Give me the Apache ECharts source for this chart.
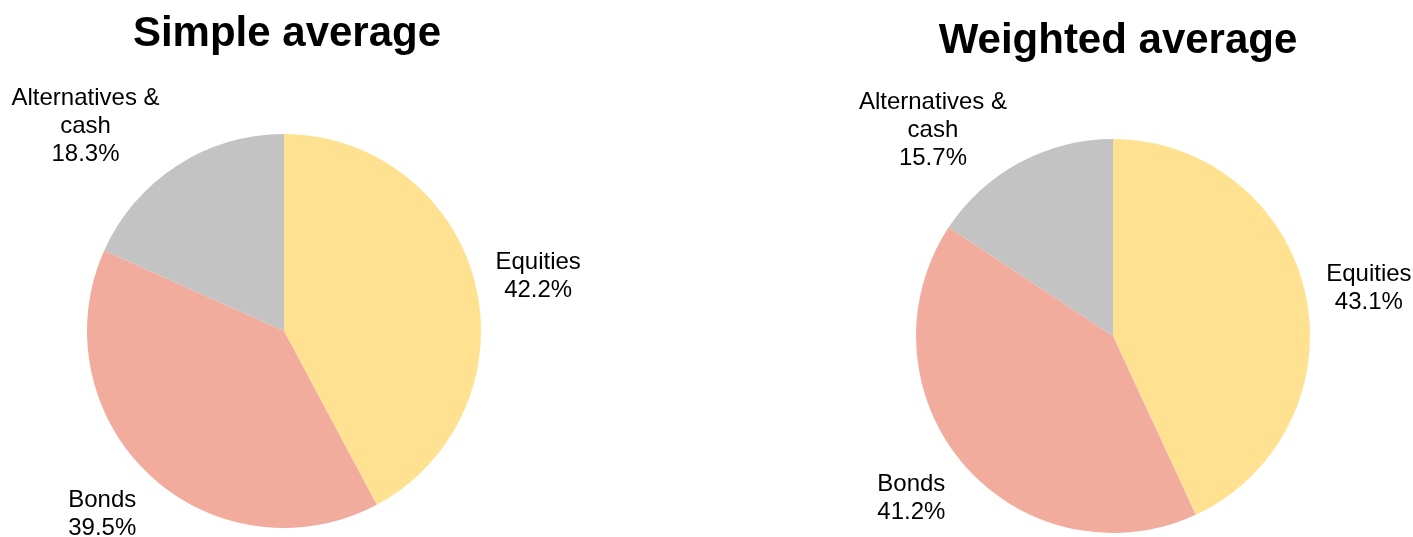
<!DOCTYPE html>
<html>
<head>
<meta charset="utf-8">
<script src="https://cdn.jsdelivr.net/npm/echarts@6/dist/echarts.min.js"></script>
<style>
  html, body { margin: 0; padding: 0; background: #fff; }
  #chart { width: 1413px; height: 537px; }
</style>
</head>
<body>
<div id="chart"></div>
<script>
// chart data
const categories = ['Equities', 'Bonds', 'Alternatives &\ncash']
const simpleValues = [42.2, 39.5, 18.3]
const weightedValues = [43.1, 41.2, 15.7]
const titles = ['Simple average', 'Weighted average']
const colors = ['#FFE291', '#F1AC9D', '#C3C3C3']

const font = 'Liberation Sans, Arial, sans-serif'
// small nudges so labels sit where the original put them
const simpleOffsets = [[0, 9], [-3, -8], [-56, 15]]
const weightedOffsets = [[0, 9], [-3, -8], [-56, 25]]

const toData = values => values.map((v, i) => ({ name: categories[i], value: v }))

// slice itself
const pieSeries = (values, center) => ({
  type: 'pie',
  center: center,
  radius: 197,
  startAngle: 90,
  clockwise: true,
  silent: true,
  label: { show: false },
  labelLine: { show: false },
  itemStyle: { borderWidth: 0 },
  emphasis: { disabled: true },
  data: toData(values)
})

// transparent ring just to place the centred labels outside the pie
const labelSeries = (values, center, offsets) => ({
  type: 'pie',
  center: center,
  radius: [250, 268],
  startAngle: 90,
  clockwise: true,
  silent: true,
  avoidLabelOverlap: false,
  itemStyle: { color: 'rgba(0,0,0,0)' },
  emphasis: { disabled: true },
  labelLine: { show: false },
  label: {
    show: true,
    position: 'inside',
    rotate: 0,
    formatter: p => p.name + '\n' + p.value.toFixed(1) + '%',
    color: '#000',
    fontFamily: font,
    fontSize: 24,
    lineHeight: 28,
    align: 'center'
  },
  data: toData(values).map((d, i) => ({ ...d, label: { offset: offsets[i] } }))
})

const chart = echarts.init(document.getElementById('chart'))
chart.setOption({
  animation: false,
  color: colors,
  title: [
    {
      text: titles[0],
      left: 282,
      top: 8,
      textAlign: 'center',
      textStyle: { fontFamily: font, fontSize: 42, fontWeight: 'bold', color: '#000' }
    },
    {
      text: titles[1],
      left: 1113,
      top: 15,
      textAlign: 'center',
      textStyle: { fontFamily: font, fontSize: 42, fontWeight: 'bold', color: '#000' }
    }
  ],
  series: [
    pieSeries(simpleValues, [284, 331]),
    labelSeries(simpleValues, [284, 331], simpleOffsets),
    pieSeries(weightedValues, [1113, 336]),
    labelSeries(weightedValues, [1113, 336], weightedOffsets)
  ]
})
</script>
</body>
</html>
